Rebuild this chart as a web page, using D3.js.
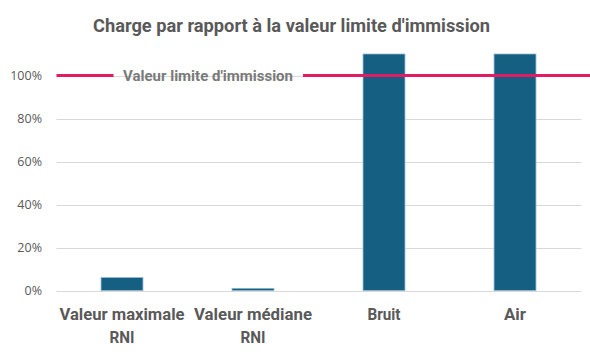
<!DOCTYPE html>
<html><head><meta charset="utf-8">
<script src="https://cdn.jsdelivr.net/npm/d3@7"></script>
<style>body{margin:0;background:#fff;} svg{display:block;}</style>
</head><body>
<svg id="c" width="590" height="357"></svg>
<script>
const categories = [["Valeur maximale","RNI"],["Valeur médiane","RNI"],["Bruit"],["Air"]];
const values = [0.06, 0.01, 1.10, 1.10];
const yTicks = [0, 0.2, 0.4, 0.6, 0.8, 1.0];
const limitValue = 1.0;
const limitLabel = "Valeur limite d'immission";
const title = "Charge par rapport à la valeur limite d'immission";

const svg = d3.select("#c");
const W = 590, H = 357;
svg.append("rect").attr("width",W).attr("height",H).attr("fill","#fff");
const x = d3.scaleBand().domain(d3.range(categories.length)).range([56.5, 580.5]).paddingInner(0.68).paddingOuter(0.34);
const y = d3.scaleLinear().domain([0, 1.0]).range([290.5, 75.5]);
const condensed = "'Liberation Sans Narrow','Roboto','Noto Sans',sans-serif";

function fit(sel, w){ sel.attr("textLength", w).attr("lengthAdjust","spacingAndGlyphs"); }

// title
const t = svg.append("text").attr("x",291.5).attr("y",31.5).attr("text-anchor","middle")
  .attr("font-family",condensed).attr("font-weight","bold").attr("font-size",18.5).attr("fill","#595959").text(title);
fit(t, 397);

// gridlines
svg.append("g").selectAll("line").data(yTicks).join("line")
  .attr("x1",56.5).attr("x2",581.5).attr("y1",d=>Math.round(y(d))+0.5).attr("y2",d=>Math.round(y(d))+0.5)
  .attr("stroke","#d9d9d9").attr("stroke-width",1.2);

// y axis labels
const yAxis = d3.axisLeft(y).tickValues(yTicks).tickFormat(d3.format(".0%")).tickSize(0).tickPadding(0);
const ga = svg.append("g").attr("transform","translate(42,0)").call(yAxis);
ga.select(".domain").remove();
ga.selectAll("text").attr("font-family","'Open Sans','Noto Sans',sans-serif").attr("font-size",12.5).attr("fill","#595959");

// bars
svg.append("g").selectAll("rect").data(values).join("rect")
  .attr("x",(d,i)=>x(i)).attr("width",x.bandwidth())
  .attr("y",d=>y(d)).attr("height",d=>y(0)-y(d))
  .attr("fill","#155f83").attr("stroke","#8fb6cc").attr("stroke-width",0.8);

// limit line
const ly = y(limitValue);
svg.append("line").attr("x1",56.5).attr("x2",113.5).attr("y1",ly).attr("y2",ly).attr("stroke","#e31b63").attr("stroke-width",3);
svg.append("line").attr("x1",303).attr("x2",590).attr("y1",ly).attr("y2",ly).attr("stroke","#e31b63").attr("stroke-width",3);
const lt = svg.append("text").attr("x",123).attr("y",ly+5).attr("font-family","'Roboto','Noto Sans',sans-serif")
  .attr("font-weight","bold").attr("font-size",14.5).attr("fill","#7a7a7a").text(limitLabel);
fit(lt, 170);

// category labels
const cg = svg.append("g");
categories.forEach((lines,i)=>{
  const cx = x(i)+x.bandwidth()/2;
  lines.forEach((s,j)=>{
    const tx = cg.append("text").attr("x",cx).attr("y",320+j*22.7).attr("text-anchor","middle")
      .attr("font-family",condensed).attr("font-weight","bold").attr("font-size",16).attr("fill","#595959").text(s);
    const widths = {"Valeur maximale":125,"Valeur médiane":118,"RNI":25,"Bruit":33,"Air":22};
    if (widths[s]) fit(tx, widths[s]);
  });
});
</script>
</body></html>
